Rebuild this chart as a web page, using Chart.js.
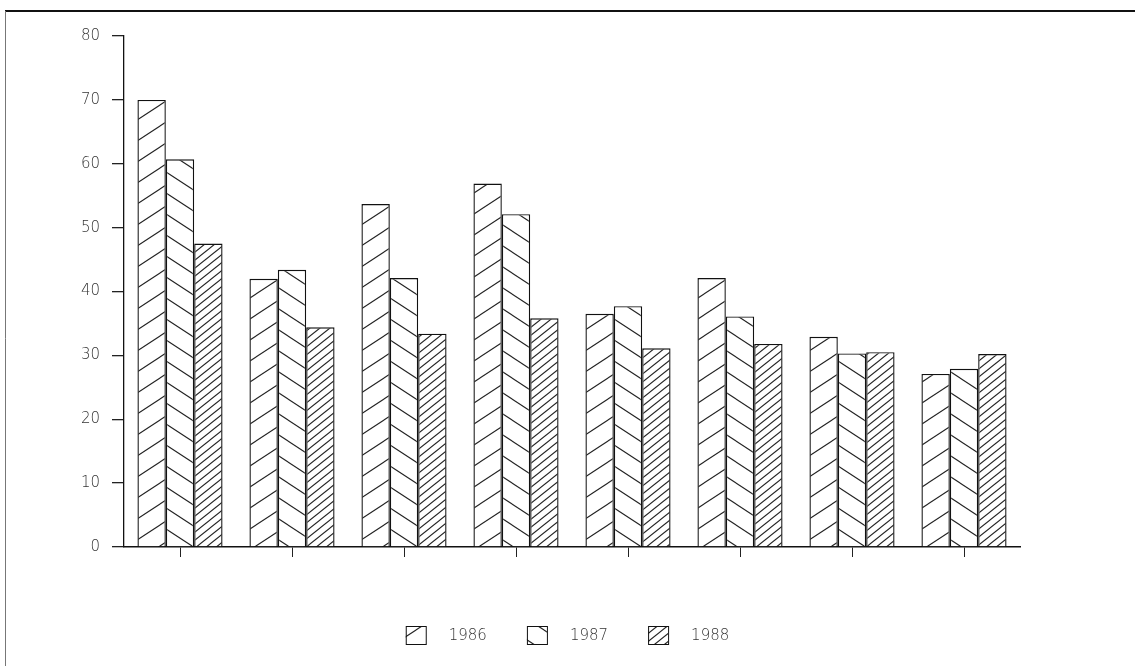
<!DOCTYPE html>
<html>
<head>
<meta charset="utf-8">
<script src="https://cdn.jsdelivr.net/npm/chart.js@4"></script>
<style>
html,body{margin:0;padding:0;background:#fff;}
#wrap{width:1135px;height:666px;position:relative;}
</style>
</head>
<body>
<div id="wrap"><canvas id="c"></canvas></div>
<script>
const categories = ['1', '2', '3', '4', '5', '6', '7', '8'];
const seriesNames = ['1986', '1987', '1988'];
const values1986 = [70.0, 42.0, 53.7, 56.9, 36.5, 42.1, 32.9, 27.1];
const values1987 = [60.7, 43.4, 42.1, 52.1, 37.7, 36.1, 30.3, 27.9];
const values1988 = [47.5, 34.4, 33.4, 35.8, 31.1, 31.8, 30.5, 30.2];
const yTickValues = [0, 10, 20, 30, 40, 50, 60, 70, 80];

const FONT = '"DejaVu Sans", sans-serif';
const mainCanvas = document.getElementById('c');
const mainCtx = mainCanvas.getContext('2d');

function hatch(w, h, dir, color, lw) {
  const t = document.createElement('canvas');
  t.width = w; t.height = h;
  const g = t.getContext('2d');
  g.fillStyle = '#fff';
  g.fillRect(0, 0, w, h);
  g.strokeStyle = color;
  g.lineWidth = lw;
  for (let ox = -1; ox <= 1; ox++) {
    for (let oy = -1; oy <= 1; oy++) {
      g.beginPath();
      if (dir > 0) {
        g.moveTo(ox * w, h + oy * h);
        g.lineTo(w + ox * w, oy * h);
      } else {
        g.moveTo(ox * w, oy * h);
        g.lineTo(w + ox * w, h + oy * h);
      }
      g.stroke();
    }
  }
  return mainCtx.createPattern(t, 'repeat');
}

const patterns = [
  hatch(32, 21, 1, '#222', 1.1),
  hatch(32, 21, -1, '#222', 1.1),
  hatch(10, 8, 1, '#222', 1.1)
];
const seriesValues = [values1986, values1987, values1988];

const framePlugin = {
  id: 'frame',
  beforeDraw(chart) {
    const c = chart.ctx;
    c.save();
    c.strokeStyle = '#111';
    c.lineWidth = 2;
    c.beginPath();
    c.moveTo(5, 11);
    c.lineTo(chart.width, 11);
    c.stroke();
    c.strokeStyle = '#777';
    c.lineWidth = 1;
    c.beginPath();
    c.moveTo(5.5, 11);
    c.lineTo(5.5, chart.height);
    c.stroke();
    c.restore();
  }
};

const legendPlugin = {
  id: 'customLegend',
  afterDraw(chart) {
    const c = chart.ctx;
    const ds = chart.data.datasets;
    const boxW = 20, boxH = 18, gap = 23, itemGap = 40;
    const cy = 635;
    c.save();
    c.font = '200 15px ' + FONT;
    const widths = ds.map(d => boxW + gap + c.measureText(d.label).width);
    const total = widths.reduce((a, b) => a + b, 0) + itemGap * (ds.length - 1);
    let x = chart.width / 2 - total / 2;
    ds.forEach((d, i) => {
      c.fillStyle = d.backgroundColor;
      c.fillRect(x, cy - boxH / 2, boxW, boxH);
      c.strokeStyle = '#111';
      c.lineWidth = 1;
      c.strokeRect(x + 0.5, cy - boxH / 2 + 0.5, boxW, boxH);
      c.fillStyle = '#333';
      c.textAlign = 'left';
      c.textBaseline = 'middle';
      c.fillText(d.label, x + boxW + gap, cy + 1);
      x += widths[i] + itemGap;
    });
    c.restore();
  }
};

new Chart(mainCanvas, {
  type: 'bar',
  data: {
    labels: categories,
    datasets: seriesNames.map((name, i) => ({
      label: name,
      data: seriesValues[i],
      backgroundColor: patterns[i],
      borderColor: '#111',
      borderWidth: 1.4,
      categoryPercentage: 0.76,
      barPercentage: 1.0
    }))
  },
  options: {
    responsive: true,
    maintainAspectRatio: false,
    animation: false,
    layout: { padding: { left: 0, right: 115, top: 36, bottom: 109 } },
    plugins: {
      legend: { display: false },
      tooltip: { enabled: false }
    },
    scales: {
      x: {
        grid: {
          display: true,
          drawOnChartArea: false,
          drawTicks: true,
          tickLength: 10,
          offset: false,
          color: '#222',
          lineWidth: 1
        },
        border: { display: true, color: '#111', width: 1.5 },
        ticks: { display: false }
      },
      y: {
        min: 0,
        max: 80,
        afterFit(scale) { scale.width = 124; },
        afterBuildTicks(scale) { scale.ticks = yTickValues.map(v => ({ value: v })); },
        grid: {
          display: true,
          drawOnChartArea: false,
          drawTicks: true,
          tickLength: 12,
          color: '#222',
          lineWidth: 1.3
        },
        border: { display: true, color: '#111', width: 1.3 },
        ticks: {
          padding: 12,
          color: '#333',
          font: { family: FONT, size: 15, weight: '200' }
        }
      }
    }
  },
  plugins: [framePlugin, legendPlugin]
});
</script>
</body>
</html>
